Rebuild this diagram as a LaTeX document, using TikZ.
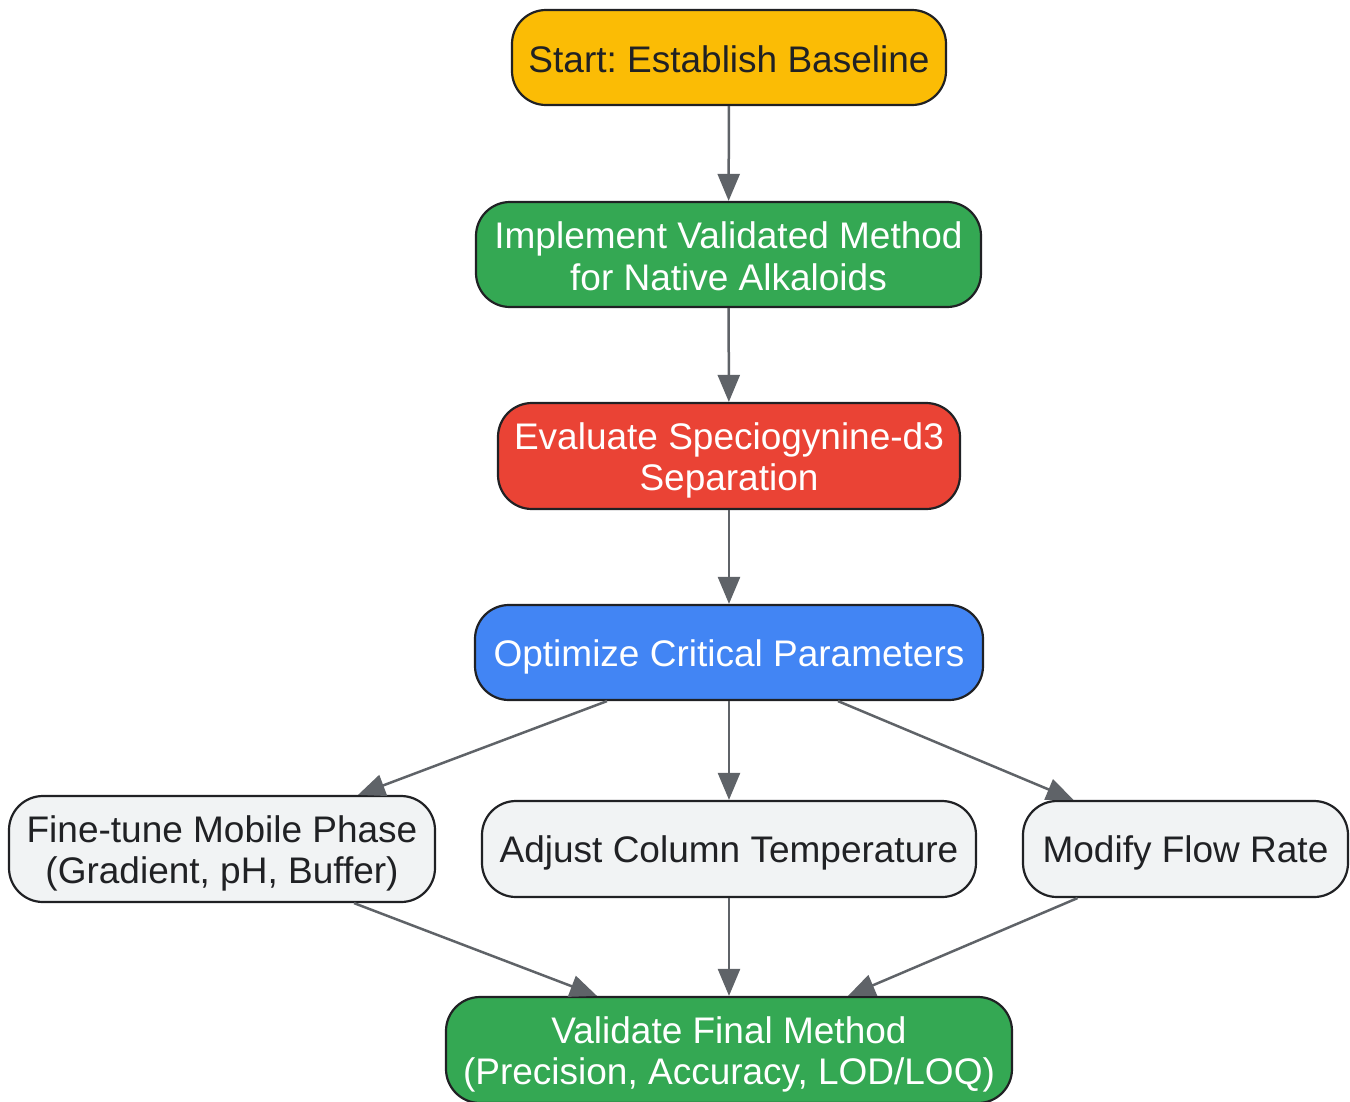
\documentclass[tikz,border=0pt]{standalone}
\usepackage{fontspec}
\setmainfont{Liberation Sans}
\frenchspacing
\usetikzlibrary{arrows.meta}
\definecolor{cyellow}{HTML}{FBBC05}
\definecolor{cgreen}{HTML}{34A853}
\definecolor{cred}{HTML}{EA4335}
\definecolor{cblue}{HTML}{4285F4}
\definecolor{cgray}{HTML}{F1F3F4}
\definecolor{cdark}{HTML}{202124}
\definecolor{cedge}{HTML}{5F6368}
\newcommand{\lstop}{\rule{0pt}{35.65pt}}
\newcommand{\lsbot}{\rule[-5.65pt]{0pt}{5.65pt}}
\begin{document}
\begin{tikzpicture}[x=1pt,y=-1pt,
  box/.style={draw=cdark, line width=2.2pt, rounded corners=34pt, align=center,
    font=\fontsize{37}{41.3}\selectfont\frenchspacing, inner sep=0pt, anchor=center},
  light/.style={box, fill=cgray, text=cdark},
  arr/.style={draw=cedge, line width=2.5pt, -{Triangle[length=27pt,width=22pt]}}]
\useasboundingbox (0,0) rectangle (1350,1101);
\clip (0,0) rectangle (1350,1101);
\node[box, fill=cyellow, text=cdark, minimum width=434pt, minimum height=95pt] (start) at (729,57.5) {\lstop Start: Establish Baseline\lsbot};
\node[box, fill=cgreen, text=white, minimum width=505pt, minimum height=105pt] (impl) at (728.5,254.5) {\lstop Implement Validated Method\\for Native Alkaloids\lsbot};
\node[box, fill=cred, text=white, minimum width=462pt, minimum height=106pt] (eval) at (729,456) {\lstop Evaluate Speciogynine-d3\\Separation\lsbot};
\node[box, fill=cblue, text=white, minimum width=508pt, minimum height=95pt] (opt) at (729,652.5) {\lstop Optimize Critical Parameters\lsbot};
\node[light, minimum width=426pt, minimum height=106pt] (fine) at (222,849) {\lstop Fine-tune Mobile Phase\\(Gradient, pH, Buffer)\lsbot};
\node[light, minimum width=494pt, minimum height=96pt] (adj) at (729,849) {\lstop Adjust Column Temperature\lsbot};
\node[light, minimum width=325pt, minimum height=96pt] (mod) at (1185.5,849) {\lstop Modify Flow Rate\lsbot};
\node[box, fill=cgreen, text=white, minimum width=566pt, minimum height=106pt] (val) at (729,1050) {\lstop Validate Final Method\\(Precision, Accuracy, LOD/LOQ)\lsbot};
\draw[arr] (start) -- (impl);
\draw[arr] (impl) -- (eval);
\draw[arr] (eval) -- (opt);
\draw[arr] ([xshift=-122pt]opt.south) -- ([xshift=136pt]fine.north);
\draw[arr] (opt) -- (adj);
\draw[arr] ([xshift=109pt]opt.south) -- ([xshift=-112pt]mod.north);
\draw[arr] ([xshift=132pt]fine.south) -- ([xshift=-132pt]val.north);
\draw[arr] (adj) -- (val);
\draw[arr] ([xshift=-108pt]mod.south) -- ([xshift=119pt]val.north);
\end{tikzpicture}
\end{document}
